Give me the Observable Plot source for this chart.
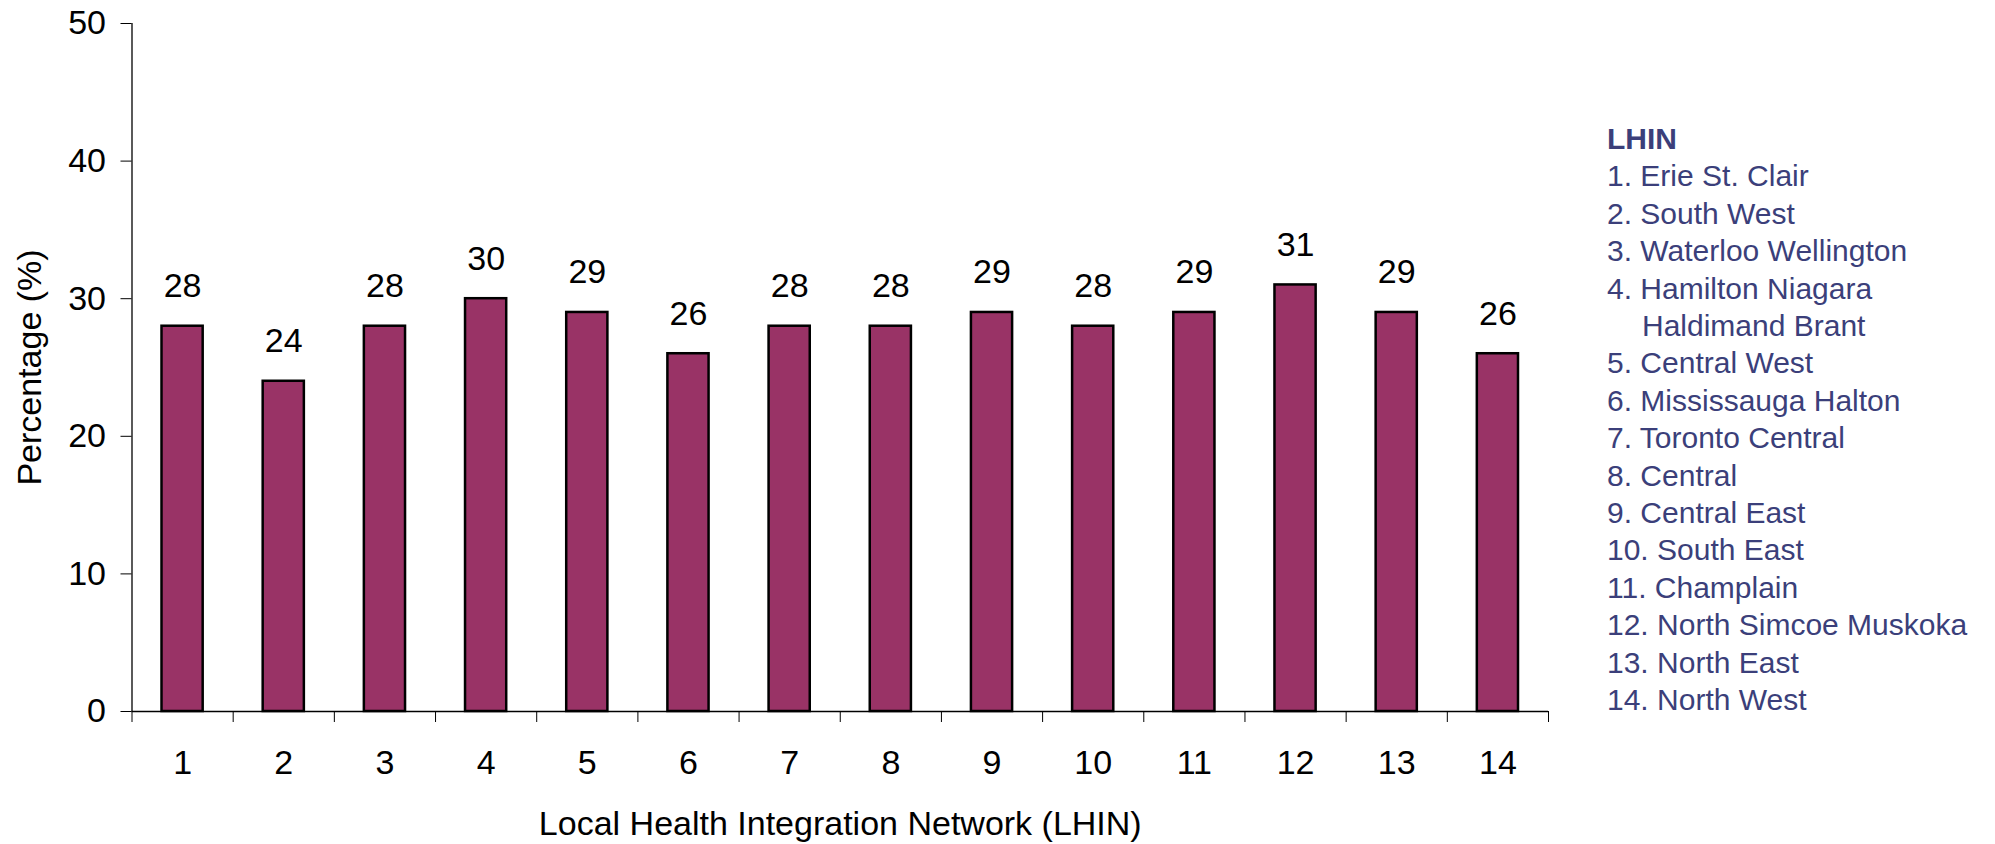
<!DOCTYPE html>
<html>
<head>
<meta charset="utf-8">
<script src="https://cdn.jsdelivr.net/npm/d3@7"></script>
<script src="https://cdn.jsdelivr.net/npm/@observablehq/plot@0.6"></script>
<style>
  html, body { margin: 0; padding: 0; background: #fff; }
  #wrap { position: relative; width: 1995px; height: 844px; overflow: hidden; }
  #legend {
    position: absolute; left: 1607px; top: 120px;
    font-family: "Liberation Sans", Arial, sans-serif;
    font-size: 30px; line-height: 37.4px; color: #3b3f7a;
  }
  #legend .title { font-weight: bold; }
  #legend .item { white-space: pre-line; padding-left: 35px; text-indent: -35px; }
</style>
</head>
<body>
<div id="wrap"></div>
<script>
// Data
const lhinIds = [1, 2, 3, 4, 5, 6, 7, 8, 9, 10, 11, 12, 13, 14];
const percentages = [28, 24, 28, 30, 29, 26, 28, 28, 29, 28, 29, 31, 29, 26];
const lhinNames = [
  "Erie St. Clair", "South West", "Waterloo Wellington",
  "Hamilton Niagara\nHaldimand Brant", "Central West", "Mississauga Halton",
  "Toronto Central", "Central", "Central East", "South East", "Champlain",
  "North Simcoe Muskoka", "North East", "North West"
];
const yTicks = [0, 10, 20, 30, 40, 50];
const xLabel = "Local Health Integration Network (LHIN)";
const yLabel = "Percentage (%)";
const legendTitle = "LHIN";

const data = lhinIds.map((id, i) => ({lhin: id, value: percentages[i]}));
const boundaries = d3.range(0.5, lhinIds.length + 1, 1);

const chart = Plot.plot({
  width: 1995,
  height: 844,
  marginLeft: 131.5,
  marginRight: 447,
  marginTop: 23,
  marginBottom: 133,
  style: {fontFamily: "'Liberation Sans', Arial, sans-serif", fontSize: "34px", color: "#000", background: "#fff"},
  x: {domain: [0.5, 14.5]},
  y: {domain: [0, 50]},
  marks: [
    Plot.rect(data, {
      x1: d => d.lhin - 0.5, x2: d => d.lhin + 0.5, y1: 0, y2: "value",
      insetLeft: 30, insetRight: 30,
      fill: "#993366", stroke: "#000", strokeWidth: 2.5
    }),
    Plot.ruleX([0.5], {stroke: "#000", strokeWidth: 1.3}),
    Plot.ruleY([0], {stroke: "#000", strokeWidth: 1.3}),
    Plot.axisY({ticks: yTicks, tickSize: 11, tickPadding: 15, label: null, fontSize: 34}),
    Plot.axisX({ticks: boundaries, tickSize: 11, tickFormat: () => "", label: null}),
    Plot.axisX({ticks: lhinIds, tickSize: 0, tickPadding: 38, label: null, fontSize: 34}),
    Plot.text(data, {x: "lhin", y: "value", text: d => String(d.value), dy: -40, fontSize: 34, fill: "#000"}),
    Plot.text([xLabel], {frameAnchor: "bottom", textAnchor: "middle", dy: 123, fontSize: 34, fill: "#000"}),
    Plot.text([yLabel], {frameAnchor: "left", textAnchor: "middle", rotate: -90, dx: -102, fontSize: 34, fill: "#000"})
  ]
});

const wrap = document.getElementById("wrap");
wrap.appendChild(chart);

const legend = document.createElement("div");
legend.id = "legend";
const t = document.createElement("div");
t.className = "title";
t.textContent = legendTitle;
legend.appendChild(t);
lhinNames.forEach((name, i) => {
  const d = document.createElement("div");
  d.className = "item";
  d.textContent = `${lhinIds[i]}. ${name}`;
  legend.appendChild(d);
});
wrap.appendChild(legend);
</script>
</body>
</html>
